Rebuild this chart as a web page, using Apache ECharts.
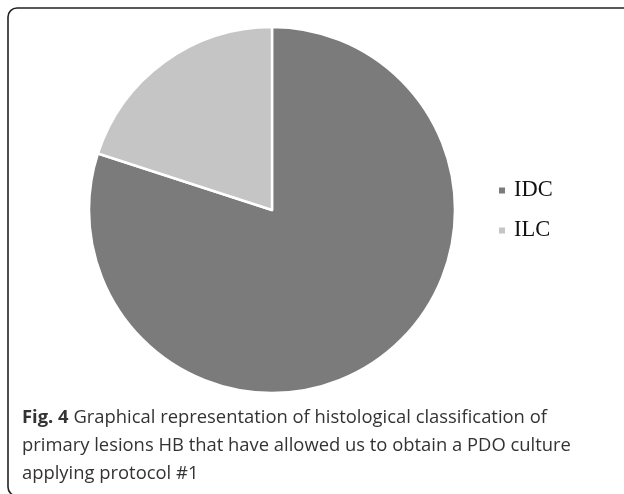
<!DOCTYPE html>
<html><head><meta charset="utf-8">
<script src="https://cdn.jsdelivr.net/npm/echarts@6/dist/echarts.min.js"></script>
<style>html,body{margin:0;padding:0;background:#fff}#c{width:624px;height:494px}</style>
</head><body><div id="c"></div>
<script>
const categories = ['IDC', 'ILC'];
const values = [80, 20];
const colors = ['#7b7b7b', '#c4c5c4'];
const captionBold = 'Fig. 4';
const captionLines = [
  ' Graphical representation of histological classification of',
  'primary lesions HB that have allowed us to obtain a PDO culture',
  'applying protocol #1'
];
const chart = echarts.init(document.getElementById('c'));
chart.setOption({
  animation: false,
  color: colors,
  legend: {
    orient: 'vertical', left: 497, top: 179, padding: 0,
    icon: 'rect', itemWidth: 8, itemHeight: 8, itemGap: 17,
    textStyle: { fontFamily: 'Liberation Serif', fontSize: 22.5, color: '#111', padding: [0, 0, 0, 3] },
    data: categories
  },
  graphic: [
    { type: 'rect', shape: { x: 8, y: 8, width: 700, height: 488, r: 9 },
      style: { fill: 'none', stroke: '#222', lineWidth: 1.6 }, silent: true },
    { type: 'text', left: 22, top: 404,
      style: {
        text: '{b|' + captionBold + '}' + captionLines[0] + '\n' + captionLines[1] + '\n' + captionLines[2],
        fontFamily: 'Open Sans', fontSize: 18.4, lineHeight: 28, fill: '#333',
        rich: { b: { fontWeight: 'bold', fontFamily: 'Open Sans', fontSize: 18.4, lineHeight: 28, fill: '#333' } }
      } }
  ],
  series: [{
    type: 'pie', center: [272, 210], radius: 183, startAngle: 90, clockwise: true,
    label: { show: false }, labelLine: { show: false },
    itemStyle: { borderColor: '#fff', borderWidth: 2.5 },
    emphasis: { disabled: true },
    data: categories.map((n, i) => ({ name: n, value: values[i] }))
  }]
});
</script></body></html>
